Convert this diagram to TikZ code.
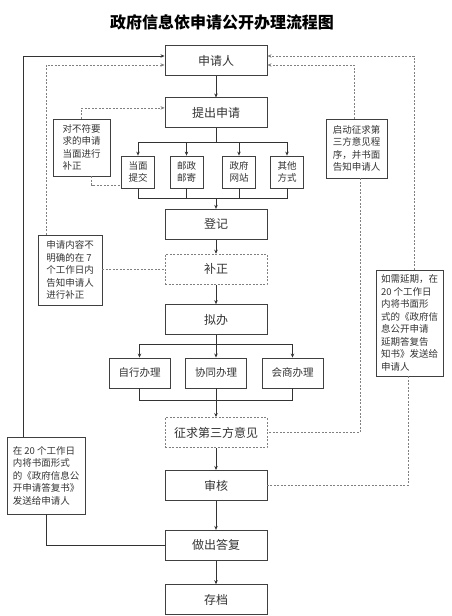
\documentclass[tikz,border=0pt]{standalone}
\usepackage{fontspec}
\setmainfont{Noto Sans CJK SC}
\usepackage{tikz}
\usetikzlibrary{positioning,arrows.meta}

\definecolor{boxgray}{HTML}{404040}
\definecolor{textgray}{HTML}{333333}

\begin{document}
\begin{tikzpicture}[
			x=1pt, y=-1pt,
			mainnode/.style={rectangle, draw=boxgray, line width=0.9pt, minimum width=102pt, minimum height=30pt, inner sep=2pt, text=textgray, font=\fontsize{12}{14}\selectfont},
			dashnode/.style={mainnode, draw=gray, dash pattern=on 2pt off 1.5pt},
			subnode/.style={rectangle, draw=boxgray, line width=0.8pt, minimum width=33pt, minimum height=32pt, inner sep=2pt, align=center, text=textgray, font=\fontsize{9.5}{12.5}\selectfont},
			waynode/.style={rectangle, draw=boxgray, line width=0.9pt, minimum width=61pt, minimum height=30pt, inner sep=2pt, text=textgray, font=\fontsize{10.5}{12}\selectfont},
			notenode/.style={rectangle, draw=boxgray, line width=0.8pt, inner sep=2pt, align=left, text=textgray, font=\fontsize{9.5}{12.5}\selectfont},
			arr/.style={-{Stealth[length=4pt,width=3.5pt]}},
			sline/.style={draw=black!80, line width=0.8pt},
			dline/.style={draw=gray, line width=0.7pt, dash pattern=on 2pt off 1.5pt},
		]
		
			\useasboundingbox (0,0) rectangle (451,616);
		
			%Title
			\node[font=\fontsize{16}{18}\selectfont\bfseries] (title) at (222,22) {政府信息依申请公开办理流程图};
		
			%Nodes
			\node[mainnode]						(sqr) at (216,60.5)	{申请人};
			\node[mainnode, below=21.5pt of sqr]	(tcsq)				{提出申请};
			\node[mainnode, below=80.5pt of tcsq]	(dj)				{登记};
			\node[dashnode, below=14pt of dj]		(bz)				{补正};
			\node[mainnode, below=19.5pt of bz]	(nb)				{拟办};
			\node[dashnode, below=82pt of nb]		(zq)				{征求第三方意见};
			\node[mainnode, below=22pt of zq]		(sh)				{审核};
			\node[mainnode, below=29pt of sh]		(zcdf)				{做出答复};
			\node[mainnode, below=23.5pt of zcdf]	(cd)				{存档};
		
			\node[subnode]	(dmtj) at (138,172)		{当面\\提交};
			\node[subnode]	(yzyj) at (186.5,172)	{邮政\\邮寄};
			\node[subnode]	(zfwz) at (239,172)		{政府\\网站};
			\node[subnode]	(qtfs) at (287,172)		{其他\\方式};
		
			\node[waynode]	(zxbl) at (139.5,373)	{自行办理};
			\node[waynode]	(xtbl) at (216,373)		{协同办理};
			\node[waynode]	(hsbl) at (292.5,373)	{会商办理};
		
			%Notes
			\node[notenode, minimum width=57pt, minimum height=57pt]	(bzn) at (81.5,147.5)	{对不符要\\求的申请\\当面进行\\补正};
			\node[notenode, minimum width=64pt, minimum height=70pt]	(bmq) at (70,270)		{申请内容不\\明确的在 7\\个工作日内\\告知申请人\\进行补正};
			\node[notenode, minimum width=78pt, minimum height=77pt]	(dfs) at (46,475.5)		{在 20 个工作日\\内将书面形式\\的《政府信息公\\开申请答复书》\\发送给申请人};
			\node[notenode, minimum width=61pt, minimum height=59pt]	(zqn) at (356.5,148.5)	{启动征求第\\三方意见程\\序，并书面\\告知申请人};
			\node[notenode, minimum width=67pt, minimum height=106pt]	(yq) at (409.5,323)		{如需延期，在\\20 个工作日\\内将书面形\\式的《政府信\\息公开申请\\延期答复告\\知书》发送给\\申请人};
		
			%Lines
			\draw[sline, arr]	(sqr) -- (tcsq);
			\coordinate (fk1) at (216,142);
			\draw[sline]	(tcsq) -- (fk1);
			\foreach \n in {dmtj,yzyj,zfwz,qtfs}
				\draw[sline, arr]	(fk1) -| (\n.north);
			\coordinate (hb1) at (216,198);
			\foreach \n in {dmtj,yzyj,zfwz,qtfs}
				\draw[sline]	(\n.south) |- (hb1);
			\draw[sline, arr]	(hb1) -- (dj);
			\draw[sline, arr]	(dj) -- (bz);
			\draw[sline, arr]	(bz) -- (nb);
			\coordinate (fk2) at (216,344);
			\draw[sline]	(nb) -- (fk2);
			\foreach \n in {zxbl,xtbl,hsbl}
				\draw[sline, arr]	(fk2) -| (\n.north);
			\coordinate (hb2) at (216,400);
			\foreach \n in {zxbl,xtbl,hsbl}
				\draw[sline]	(\n.south) |- (hb2);
			\draw[sline, arr]	(hb2) -- (zq);
			\draw[sline, arr]	(zq) -- (sh);
			\draw[sline, arr]	(sh) -- (zcdf);
			\draw[sline, arr]	(zcdf) -- (cd);
		
			%Feedback lines
			\draw[dline, arr]	(bzn.north) |- ([yshift=5pt]tcsq.west);
			\draw[dline]		([xshift=10pt]bzn.south) |- ([yshift=-13pt]dmtj.west);
			\draw[dline, arr]	([xshift=-24pt]bmq.north) |- ([yshift=-4.5pt]sqr.west);
			\draw[dline]		(bmq.east |- bz.west) -- (bz.west);
			\draw[sline, arr]	([xshift=-23pt]dfs.north) |- ([yshift=4.5pt]sqr.west);
			\draw[sline]		(dfs.south) |- (zcdf.west);
			\draw[dline, arr]	([xshift=-2.5pt]zqn.north) |- ([yshift=-4.5pt]sqr.east);
			\draw[dline]		([xshift=3.5pt]zqn.south) |- (zq.east);
			\draw[dline, arr]	([xshift=4.5pt]yq.north) |- ([yshift=4.5pt]sqr.east);
			\draw[dline]		([xshift=-1.5pt]yq.south) |- (sh.east);
		
		\end{tikzpicture}
\end{document}
